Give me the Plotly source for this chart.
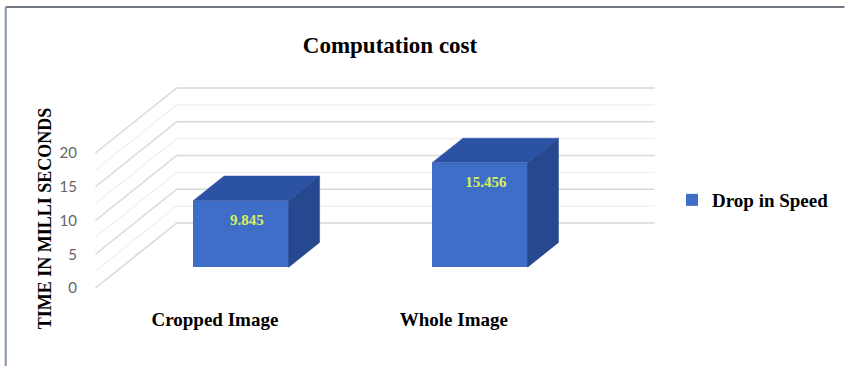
import plotly.graph_objects as go

# ---------------- data ----------------
categories = ["Cropped Image", "Whole Image"]
values = [9.845, 15.456]
value_labels = ["9.845", "15.456"]
series_name = "Drop in Speed"
y_ticks = [0, 5, 10, 15, 20]
chart_title = "Computation cost"
y_title = "TIME IN MILLI SECONDS"

# ---------------- geometry / style constants ----------------
W, H = 853, 368
PX_X = 241.0          # pixels per category unit
PX_Y = 6.75           # pixels per value unit
X0_PX = 216.0         # pixel x of category 0 at the front plane
Y0_PX = 288.0         # pixel y of value 0 at the front plane
DEPTH_PX = (82.0, -65.0)  # full depth vector in pixels
L, R, T, B = 88, 665, 78, 298   # plot area in pixels

DX = DEPTH_PX[0] / PX_X
DY = -DEPTH_PX[1] / PX_Y
D_FRONT, D_BACK = 0.32, 0.70
BAR_W = 0.40

FRONT = "#3E6EC8"
TOP = "#2C52A6"
SIDE = "#26488E"
SERIF = "Liberation Serif"

n = len(categories)
wall_x0, wall_x1 = -0.5, n - 0.5

fig = go.Figure()

# ---------------- walls gridlines (below the bars) ----------------
minor = [(a + b) / 2 for a, b in zip(y_ticks[:-1], y_ticks[1:])]
for levels, color, width in ((minor, "#EEEEEE", 1.2), (y_ticks, "#D9D9D9", 1.6)):
    for v in levels:
        path = "M {:.5f},{:.5f} L {:.5f},{:.5f} L {:.5f},{:.5f}".format(
            wall_x0, v, wall_x0 + DX, v + DY, wall_x1 + DX, v + DY)
        fig.add_shape(type="path", xref="x", yref="y", path=path,
                      line=dict(color=color, width=width), layer="below")

# ---------------- bars (front faces) ----------------
fx = [i + D_FRONT * DX for i in range(n)]
fig.add_trace(go.Bar(x=fx, y=values, base=[D_FRONT * DY] * n, width=BAR_W,
                     marker=dict(color=FRONT, line=dict(width=0)),
                     name=series_name, showlegend=True))

# ---------------- top and side faces ----------------
for i, v in enumerate(values):
    xl = i - BAR_W / 2
    xr = i + BAR_W / 2
    top_x = [xl + D_FRONT * DX, xr + D_FRONT * DX, xr + D_BACK * DX, xl + D_BACK * DX, xl + D_FRONT * DX]
    top_y = [v + D_FRONT * DY, v + D_FRONT * DY, v + D_BACK * DY, v + D_BACK * DY, v + D_FRONT * DY]
    fig.add_trace(go.Scatter(x=top_x, y=top_y, mode="lines", fill="toself",
                             fillcolor=TOP, line=dict(color=TOP, width=0.5),
                             hoverinfo="skip", showlegend=False))
    side_x = [xr + D_FRONT * DX, xr + D_BACK * DX, xr + D_BACK * DX, xr + D_FRONT * DX, xr + D_FRONT * DX]
    side_y = [v + D_FRONT * DY, v + D_BACK * DY, D_BACK * DY, D_FRONT * DY, v + D_FRONT * DY]
    fig.add_trace(go.Scatter(x=side_x, y=side_y, mode="lines", fill="toself",
                             fillcolor=SIDE, line=dict(color=SIDE, width=0.5),
                             hoverinfo="skip", showlegend=False))

# ---------------- data labels ----------------
fig.add_trace(go.Scatter(x=[x + 6 / PX_X for x in fx],
                         y=[v + D_FRONT * DY - 20 / PX_Y for v in values],
                         mode="text", text=value_labels,
                         textfont=dict(family=SERIF, size=15, color="#D8F25A", weight="bold"),
                         hoverinfo="skip", showlegend=False))

# ---------------- layout ----------------
def px2paper_x(px):
    return (px - L) / (R - L)

def px2paper_y(py):
    return (B - py) / (B - T)

fig.update_layout(
    width=W, height=H, autosize=False,
    margin=dict(l=L, r=W - R, t=T, b=H - B, pad=0),
    paper_bgcolor="white", plot_bgcolor="white",
    title=dict(text=chart_title, xref="container", yref="container",
               x=390 / W, y=1 - 45 / H, xanchor="center", yanchor="middle",
               font=dict(family=SERIF, size=23, color="black", weight="bold")),
    xaxis=dict(range=[(L - X0_PX) / PX_X, (R - X0_PX) / PX_X],
               tickvals=list(range(n)), ticktext=categories,
               showgrid=False, zeroline=False, showline=False,
               ticks="outside", ticklen=4, tickcolor="rgba(0,0,0,0)",
               tickfont=dict(family=SERIF, size=19, color="black", weight="bold"),
               fixedrange=True),
    yaxis=dict(range=[(Y0_PX - B) / PX_Y, (Y0_PX - T) / PX_Y],
               tickvals=y_ticks, ticktext=[str(t) for t in y_ticks],
               showgrid=False, zeroline=False, showline=False,
               ticks="outside", ticklen=7, tickcolor="rgba(0,0,0,0)",
               tickfont=dict(family="Lato", size=15, color="#666666"),
               fixedrange=True),
    legend=dict(xref="container", yref="container",
                x=672 / W, y=1 - 200 / H, xanchor="left", yanchor="middle",
                font=dict(family=SERIF, size=19, color="black", weight="bold"),
                bgcolor="rgba(0,0,0,0)", itemwidth=30),
    showlegend=True,
    bargap=0,
)

fig.add_annotation(text=y_title, textangle=-90, xref="paper", yref="paper",
                   x=px2paper_x(45), y=px2paper_y(218), xanchor="center", yanchor="middle",
                   showarrow=False,
                   font=dict(family=SERIF, size=18, color="black", weight="bold"))

# chart frame lines
fig.add_shape(type="line", xref="paper", yref="paper",
              x0=px2paper_x(5), x1=px2paper_x(851), y0=px2paper_y(7), y1=px2paper_y(7),
              line=dict(color="#6F767D", width=2), layer="above")
fig.add_shape(type="line", xref="paper", yref="paper",
              x0=px2paper_x(5), x1=px2paper_x(5), y0=px2paper_y(7), y1=px2paper_y(366),
              line=dict(color="#8595AD", width=2), layer="above")

fig.write_html("out.html")
